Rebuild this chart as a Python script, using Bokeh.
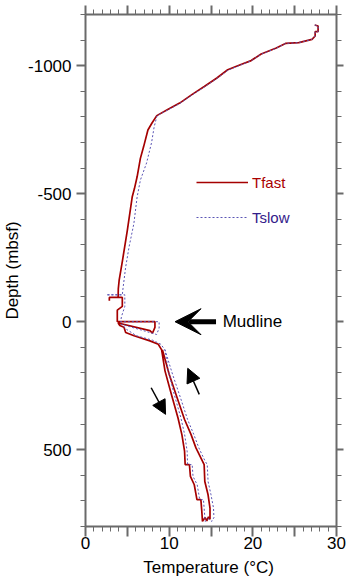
from bokeh.plotting import figure
from bokeh.models import (Range1d, LinearAxis, FixedTicker, Arrow, VeeHead, NormalHead,
                          Label, Legend, LegendItem)
from bokeh.embed import file_html
from bokeh.resources import INLINE

# ---------------- data ----------------
fast_temp = [27.4, 27.8, 27.8, 27.45, 27.45, 27.07, 25.5, 23.9, 22.8, 21.0, 19.8, 18.5,
             17.0, 15.7, 14.2, 12.8, 11.25, 9.88, 8.52, 7.93, 7.46, 6.95, 6.56, 6.17,
             5.85, 5.58, 5.0, 4.42, 4.02, 3.92, 3.9, 2.85, 2.85, 2.85, 4.4, 4.4, 3.8,
             3.8, 8.3, 8.3, 8.0, 7.7, 3.9, 4.1, 4.6, 4.8, 5.8, 7.7, 8.7, 9.1, 9.5,
             10.27, 11.05, 11.52, 11.84, 11.91, 12.42, 12.54, 13.0, 13.32, 13.79,
             13.9, 13.98, 14.3, 14.5, 14.7, 14.88, 14.88, 14.65, 14.26, 14.18, 13.98,
             13.2, 12.62, 11.84, 10.95, 10.0, 9.2]
fast_depth = [-1159, -1155, -1133, -1133, -1116, -1103, -1090, -1087, -1069, -1046, -1020,
              -1004, -984, -952, -919, -889, -854, -830, -805, -775, -749, -684, -638,
              -566, -520, -487, -357, -239, -161, -128, -95, -95, -82, -95, -95, -60,
              -45, 0, 0, 22, 45, 35, 5, 15, 22, 42, 55, 75, 88, 110, 192, 284, 375,
              441, 506, 558, 558, 604, 637, 695, 695, 740, 780, 765, 778, 762, 772,
              728, 676, 624, 558, 545, 493, 441, 382, 297, 205, 110]

slow_temp = [27.4, 27.8, 27.8, 27.45, 27.45, 27.07, 25.5, 23.9, 22.8, 21.0, 19.8, 18.5,
             17.0, 15.7, 14.2, 12.8, 11.25, 9.88, 8.55, 8.2, 7.9, 7.3, 6.56, 6.17,
             5.78, 5.2, 4.8, 4.5, 4.4, 2.5, 4.7, 4.7, 4.3, 4.2, 8.8, 8.8, 8.5, 4.3,
             4.9, 6.1, 8.0, 9.0, 9.5, 9.9, 10.6, 11.4, 11.85, 12.15, 12.2, 12.75,
             12.85, 13.35, 13.65, 14.1, 14.3, 14.7, 15.1, 15.35, 15.3, 15.0, 14.65,
             14.55, 14.3, 13.55, 12.95, 12.2, 11.35, 10.4, 9.5]
slow_depth = [-1159, -1155, -1133, -1133, -1116, -1103, -1090, -1087, -1068, -1045, -1019,
              -1002, -982, -950, -917, -887, -852, -828, -805, -760, -700, -620, -553,
              -487, -383, -291, -213, -135, -105, -105, -105, -60, -20, 0, 0, 25, 50,
              10, 30, 55, 72, 88, 110, 192, 284, 375, 441, 506, 558, 558, 604, 637,
              695, 695, 780, 770, 780, 765, 728, 676, 624, 558, 545, 493, 441, 382,
              297, 205, 110]

x_major = [0, 5, 10, 15, 20, 25, 30]
x_labels = {0: "0", 5: "", 10: "10", 15: "", 20: "20", 25: "", 30: "30"}
x_minor = list(range(0, 31))
y_major = [-1000, -500, 0, 500]
y_labels = {-1000: "-1000", -500: "-500", 0: "0", 500: "500"}
y_minor = list(range(-1200, 801, 100))

# annotation positions (data units)
mud_arrow = dict(x_start=15.6, y_start=0, x_end=10.7, y_end=0)
mud_text = dict(x=16.4, y=0, text="Mudline")
down_arrow = dict(x_start=7.85, y_start=258, x_end=9.57, y_end=362)
up_arrow = dict(x_start=13.6, y_start=284, x_end=12.22, y_end=182)

FONT = "Liberation Sans"
AXIS_COLOR = "#6a6a6a"
FAST_COLOR = "#a50000"
SLOW_COLOR = "#5a55b5"

p = figure(width=353, height=583, output_backend="svg", toolbar_location=None,
           x_range=Range1d(0, 30), y_range=Range1d(800, -1200),
           min_border_left=79, min_border_right=17, min_border_top=14,
           min_border_bottom=57, x_axis_label="Temperature  (°C)",
           y_axis_label="Depth (mbsf)")
p.grid.visible = False
p.outline_line_color = None
p.background_fill_color = "white"
p.border_fill_color = "white"

r_fast = p.line(fast_temp, fast_depth, line_color=FAST_COLOR, line_width=1.7)
r_slow = p.line(slow_temp, slow_depth, line_color=SLOW_COLOR, line_width=1,
                line_dash="2 2")


def style(ax, ticks, minor, labels, show_labels):
    ax.ticker = FixedTicker(ticks=ticks, minor_ticks=minor)
    ax.axis_line_color = AXIS_COLOR
    ax.axis_line_width = 2
    ax.major_tick_line_color = AXIS_COLOR
    ax.major_tick_line_width = 2
    ax.minor_tick_line_color = AXIS_COLOR
    ax.minor_tick_line_width = 1
    ax.major_tick_out = 9
    ax.major_tick_in = 0
    ax.minor_tick_out = 5
    ax.minor_tick_in = 0
    if show_labels:
        ax.major_label_overrides = labels
        ax.major_label_text_font = FONT
        ax.major_label_text_font_size = "17px"
        ax.major_label_text_color = "black"
        ax.axis_label_text_font = FONT
        ax.axis_label_text_font_size = "17px"
        ax.axis_label_text_font_style = "normal"
        ax.axis_label_text_color = "black"
    else:
        ax.major_label_text_font_size = "0px"
        ax.major_label_text_color = None
        ax.major_label_standoff = 0
        ax.axis_label = None


xb = p.xaxis[0]
yl = p.yaxis[0]
style(xb, x_major, x_minor, x_labels, True)
style(yl, y_major, y_minor, y_labels, True)
xb.major_label_standoff = 0
xb.major_tick_out = 10
xb.axis_label_standoff = 6
yl.major_label_standoff = 5
yl.axis_label_standoff = 3

xt = LinearAxis()
style(xt, x_major, x_minor, x_labels, False)
p.add_layout(xt, "above")
yr = LinearAxis()
style(yr, y_major, y_minor, y_labels, False)
yr.major_tick_out = 7
p.add_layout(yr, "right")

# arrows and annotation
p.add_layout(Arrow(end=VeeHead(size=26, fill_color="black", line_color="black"),
                   line_color="black", line_width=5, **mud_arrow))
p.add_layout(Label(text_font=FONT, text_font_size="17px", text_color="black",
                   text_baseline="middle", **mud_text))
for a in (down_arrow, up_arrow):
    p.add_layout(Arrow(end=NormalHead(size=14, fill_color="black", line_color="black",
                                      line_width=1),
                       line_color="black", line_width=1.5, **a))

# legends (one per entry, each with its own text colour)
for r, lab, col, yloc in ((r_fast, "Tfast", "#aa0000", 335), (r_slow, "Tslow", "#33208a", 300)):
    lg = Legend(items=[LegendItem(label=lab, renderers=[r])], location=(111, yloc),
                glyph_width=52, glyph_height=18, label_standoff=4, padding=0, margin=0,
                border_line_color=None, background_fill_alpha=0,
                label_text_font=FONT, label_text_font_size="15px",
                label_text_color=col, label_height=18)
    p.add_layout(lg, "center")

open("out.html", "w").write(file_html(p, INLINE))
